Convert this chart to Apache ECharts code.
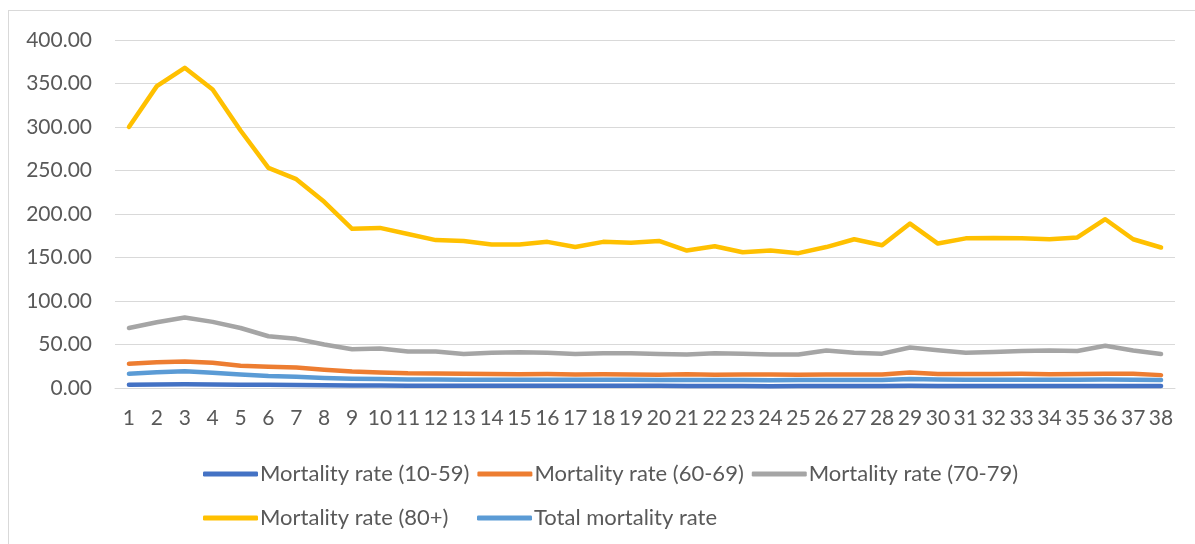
<!DOCTYPE html>
<html>
<head>
    <meta charset="utf-8">
    <title>Mortality rate</title>
    <script src="https://cdn.jsdelivr.net/npm/echarts@6/dist/echarts.min.js"></script>
    <style>
        body { margin: 0; background: #fff; }
        #frame { position: absolute; left: 8px; top: 10px; width: 1200px; height: 540px;
                 border-left: 1px solid #d9d9d9; border-top: 1px solid #d9d9d9; }
        #main { position: absolute; left: 0; top: 0; width: 1195px; height: 544px; }
    </style>
</head>
<body>
    <div id="frame"></div>
    <div id="main"></div>

    <script type="text/javascript">
        var days = [];
        for (var d = 1; d <= 38; d++) days.push(String(d));

        var yTicks = [0, 50, 100, 150, 200, 250, 300, 350, 400];

        var rate1059 = [3.8,4.1,4.3,4.0,3.8,3.6,3.5,3.2,2.9,2.8,2.7,2.7,2.6,2.6,2.6,2.6,2.5,2.5,2.5,2.5,
                        2.4,2.2,2.3,2.1,2.3,2.4,2.4,2.3,2.5,2.4,2.4,2.4,2.4,2.3,2.4,2.4,2.3,2.2];
        var rate6069 = [27.8,29.7,30.5,29,25.5,24.5,23.5,21,19,17.8,16.9,16.8,16.4,16,15.8,16,15.5,15.8,15.6,15.2,
                        15.8,15.3,15.4,15.5,15.3,15.4,15.6,15.5,17.8,16.2,16,16.2,16.3,15.7,16.2,16.4,16.3,14.8];
        var rate7079 = [69,75.6,81,76,69,59.5,56.5,50,44.6,45.4,42,42,39,40.5,41,40.5,39,40,40,39,
                        38.5,40,39.5,38.5,38.5,43,40.5,39.5,46.5,43.5,40.5,41.5,42.5,43,42.5,48.5,43,39];
        var rate80 = [300,347,368,343,296,253,240,214,183,184,177,170,169,165,165,168,162,168,167,169,
                      158,163,156,158,155,162,171,164,189,166,172,172.5,172,171,173,194,171,161.5];
        var rateTotal = [16.3,18,19.3,17.5,15.5,13.8,13,11.5,10.7,10.3,9.8,9.7,9.6,9.5,9.5,9.5,9.4,9.4,9.4,9.2,
                         9.3,9.1,9.1,9.0,9.1,9.2,9.3,9.1,10.4,9.7,9.5,9.6,9.6,9.4,9.6,9.9,9.6,9.2];

        var names = ['Mortality rate (10-59)', 'Mortality rate (60-69)', 'Mortality rate (70-79)',
                     'Mortality rate (80+)', 'Total mortality rate'];
        var colors = ['#4472c4', '#ed7d31', '#a5a5a5', '#ffc000', '#5b9bd5'];
        var values = [rate1059, rate6069, rate7079, rate80, rateTotal];

        var font = 'Lato';
        var textColor = '#595959';

        function makeLegend(data, left, top) {
            return {
                data: data, left: left, top: top, orient: 'horizontal',
                icon: 'roundRect', itemWidth: 55, itemHeight: 5, itemGap: 8,
                textStyle: { fontFamily: font, fontSize: 22, color: textColor, padding: [0, 0, 0, -3] }
            };
        }

        var series = [];
        for (var i = 0; i < names.length; i++) {
            series.push({
                name: names[i], type: 'line', data: values[i],
                symbol: 'none', smooth: false,
                lineStyle: { width: 4.5, color: colors[i], cap: 'round', join: 'round' },
                itemStyle: { color: colors[i] }
            });
        }

        var myChart = echarts.init(document.getElementById('main'));
        option = {
            animation: false,
            grid: { left: 115, right: 20, top: 40, bottom: 156 },
            legend: [
                makeLegend(names.slice(0, 3), 198, 458),
                makeLegend([names[3]], 198, 502),
                makeLegend([names[4]], 472, 502)
            ],
            xAxis: {
                type: 'category', data: days, boundaryGap: true,
                axisLine: { lineStyle: { color: '#d9d9d9', width: 1 } },
                axisTick: { show: false },
                axisLabel: { fontFamily: font, fontSize: 21, color: textColor, margin: 20, interval: 0 }
            },
            yAxis: {
                type: 'value', min: yTicks[0], max: yTicks[yTicks.length - 1], interval: 50,
                axisLine: { show: false }, axisTick: { show: false },
                splitLine: { lineStyle: { color: '#d9d9d9', width: 1 } },
                axisLabel: {
                    fontFamily: font, fontSize: 21, color: textColor, margin: 23,
                    formatter: function (v) { return v.toFixed(2); }
                }
            },
            series: series
        };
        myChart.setOption(option);
    </script>
</body>
</html>
